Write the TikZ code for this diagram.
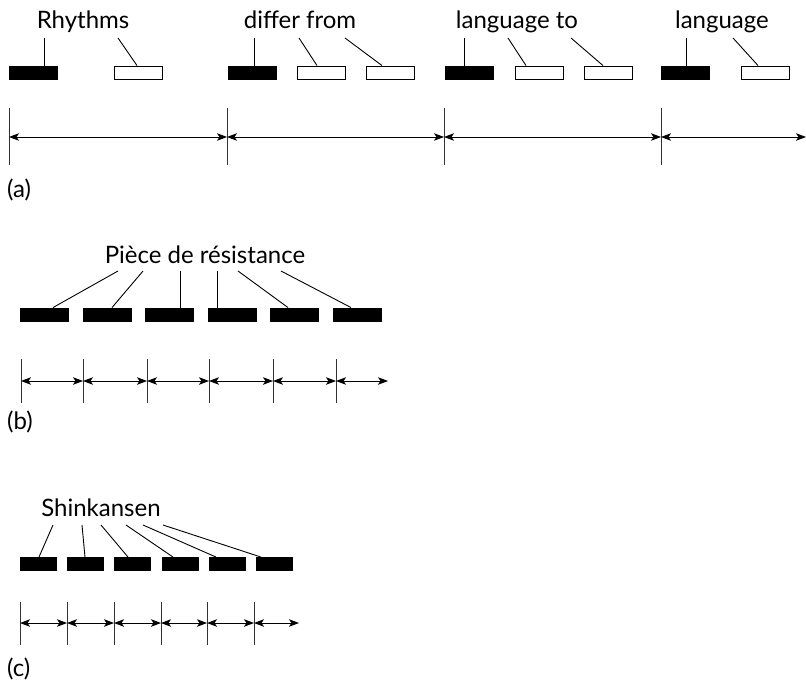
\documentclass[tikz,border=0pt]{standalone}
\usepackage{fontspec}
\setmainfont{Lato}
\usetikzlibrary{arrows.meta}
\begin{document}
\begin{tikzpicture}[x=1pt,y=-1pt,
 lbl/.style={font=\fontsize{24}{28}\selectfont, inner sep=0pt, anchor=base},
 plbl/.style={font=\fontsize{24}{28}\selectfont, inner sep=0pt, anchor=base west},
 bbox/.style={draw,fill=black,minimum height=13pt,inner sep=0pt,line width=0.9pt},
 wbox/.style={draw,fill=white,minimum height=13pt,inner sep=0pt,line width=0.9pt},
 lead/.style={line width=0.9pt},
 tickln/.style={line width=1pt, draw=black!80},
 spanar/.style={line width=0.9pt,{Stealth[length=10pt,width=7.5pt,inset=2.5pt]}-{Stealth[length=10pt,width=7.5pt,inset=2.5pt]}}
]
\useasboundingbox (0,0) rectangle (806,683);

% ---------------- (a) ----------------
\node[lbl] (ta1) at (83,28) {Rhythms};
\node[lbl] (ta2) at (300,28) {differ from};
\node[lbl] (ta3) at (517,28) {language to};
\node[lbl] (ta4) at (722,28) {language};

\node[bbox,minimum width=48pt] (a1) at (33.5,72.5) {};
\node[wbox,minimum width=48pt] (a2) at (138,72.5) {};
\node[bbox,minimum width=48pt] (a3) at (252,72.5) {};
\node[wbox,minimum width=48pt] (a4) at (321,72.5) {};
\node[wbox,minimum width=48pt] (a5) at (390,72.5) {};
\node[bbox,minimum width=48pt] (a6) at (469.5,72.5) {};
\node[wbox,minimum width=48pt] (a7) at (539,72.5) {};
\node[wbox,minimum width=48pt] (a8) at (608.5,72.5) {};
\node[bbox,minimum width=48pt] (a9) at (685.5,72.5) {};
\node[wbox,minimum width=48pt] (a10) at (765.5,72.5) {};

\draw[lead] (44,38) -- (a1.north -| 44,0);
\draw[lead] (118,38) -- (a2.north -| 137,0);
\draw[lead] (254,38) -- (a3.north -| 254,0);
\draw[lead] (299,38) -- (a4.north -| 317,0);
\draw[lead] (345,38) -- (a5.north -| 382,0);
\draw[lead] (464,38) -- (a6.north -| 464,0);
\draw[lead] (508,38) -- (a7.north -| 526,0);
\draw[lead] (571,38) -- (a8.north -| 603,0);
\draw[lead] (686,38) -- (a9.north -| 686,0);
\draw[lead] (733,38) -- (a10.north -| 758,0);

\foreach \n/\x in {1/9,2/227,3/444,4/661}{
  \coordinate (at\n) at (\x,137);
  \draw[tickln] (\x,108) -- (\x,165);
}
\coordinate (aend) at (806,137);
\draw[spanar] (at1) -- (at2);
\draw[spanar] (at2) -- (at3);
\draw[spanar] (at3) -- (at4);
\draw[spanar] (at4) -- (aend);
\node[plbl] (la) at (7,197) {(a)};

% ---------------- (b) ----------------
\node[lbl] (tb) at (205,263) {Pièce de résistance};
\foreach \n/\x in {1/44.5,2/107,3/169.5,4/232.5,5/294.5,6/357.5}{
  \node[bbox,minimum width=48pt] (b\n) at (\x,314.5) {};
}
\draw[lead] (118,271) -- (b1.north -| 53,0);
\draw[lead] (143,271) -- (b2.north -| 112,0);
\draw[lead] (180,271) -- (b3.north -| 180,0);
\draw[lead] (217,271) -- (b4.north -| 217,0);
\draw[lead] (238,271) -- (b5.north -| 288,0);
\draw[lead] (281,271) -- (b6.north -| 351,0);

\foreach \n/\x in {1/21,2/83,3/147,4/209,5/273,6/336}{
  \coordinate (bt\n) at (\x,381);
  \draw[tickln] (\x,359) -- (\x,403);
}
\coordinate (bend) at (388,381);
\draw[spanar] (bt1) -- (bt2);
\draw[spanar] (bt2) -- (bt3);
\draw[spanar] (bt3) -- (bt4);
\draw[spanar] (bt4) -- (bt5);
\draw[spanar] (bt5) -- (bt6);
\draw[spanar] (bt6) -- (bend);
\node[plbl] (lb) at (7,429) {(b)};

% ---------------- (c) ----------------
\node[lbl] (tc) at (101,516) {Shinkansen};
\foreach \n/\x in {1/38.5,2/85.5,3/132.5,4/180.5,5/227.5,6/274.5}{
  \node[bbox,minimum width=36pt] (c\n) at (\x,564) {};
}
\draw[lead] (53,525) -- (c1.north -| 39,0);
\draw[lead] (82,525) -- (c2.north -| 85,0);
\draw[lead] (101,525) -- (c3.north -| 128,0);
\draw[lead] (126,525) -- (c4.north -| 173,0);
\draw[lead] (143,525) -- (c5.north -| 216,0);
\draw[lead] (163,525) -- (c6.north -| 261,0);

\foreach \n/\x in {1/20,2/67,3/114,4/161,5/207,6/254}{
  \coordinate (ct\n) at (\x,623);
  \draw[tickln] (\x,602) -- (\x,645);
}
\coordinate (cend) at (299,623);
\draw[spanar] (ct1) -- (ct2);
\draw[spanar] (ct2) -- (ct3);
\draw[spanar] (ct3) -- (ct4);
\draw[spanar] (ct4) -- (ct5);
\draw[spanar] (ct5) -- (ct6);
\draw[spanar] (ct6) -- (cend);
\node[plbl] (lc) at (7,676) {(c)};
\end{tikzpicture}
\end{document}
